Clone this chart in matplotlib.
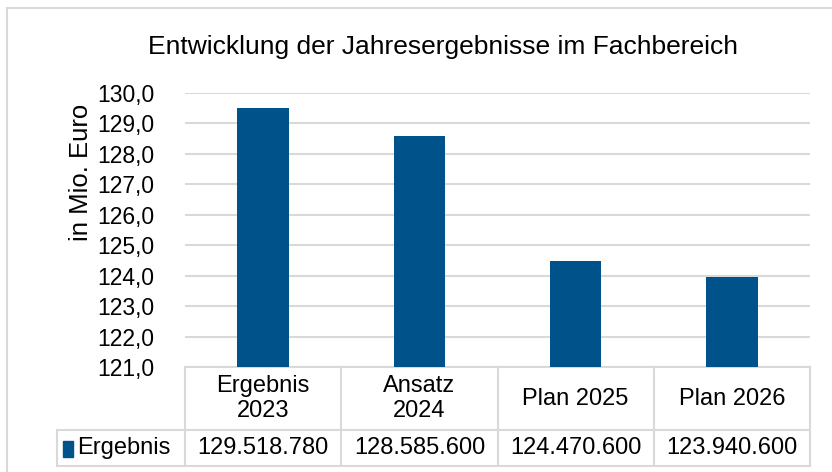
import matplotlib.pyplot as plt
import matplotlib.patches as patches
from matplotlib.lines import Line2D

# Data
categories = ['Ergebnis\n2023', 'Ansatz\n2024', 'Plan 2025', 'Plan 2026']
values_euro = [129518780, 128585600, 124470600, 123940600]
table_labels = ['129.518.780', '128.585.600', '124.470.600', '123.940.600']
series_name = 'Ergebnis'
y_ticks = [121, 122, 123, 124, 125, 126, 127, 128, 129, 130]

bar_color = '#00538a'
grid_color = '#d9d9d9'

plt.rcParams['font.family'] = ['Liberation Sans', 'DejaVu Sans']

fig = plt.figure(figsize=(8.32, 4.72), dpi=100)
ax = fig.add_axes([185 / 832, 1 - 367 / 472, 625 / 832, 274 / 472])

# outer chart border (goes past the right/bottom edge)
fig.patches.append(patches.Rectangle((7 / 832, -0.1), 1.0, 1 - 8 / 472 + 0.1,
                                     transform=fig.transFigure, fill=False,
                                     edgecolor=grid_color, linewidth=1.5))

values = [v / 1e6 for v in values_euro]
x = list(range(len(categories)))
ax.bar(x, values, width=0.33, color=bar_color, zorder=3)

ax.set_xlim(-0.5, len(categories) - 0.5)
ax.set_ylim(121, 130)
ax.set_yticks(y_ticks)
ax.set_yticklabels([f'{t:.1f}'.replace('.', ',') for t in y_ticks], fontsize=16.5)
ax.tick_params(axis='y', length=0, pad=22)
ax.set_xticks([])
ax.grid(axis='y', color=grid_color, linewidth=1.5, zorder=0)
for s in ['top', 'right', 'left']:
    ax.spines[s].set_visible(False)
ax.spines['bottom'].set_color(grid_color)
ax.spines['bottom'].set_linewidth(1.5)

ax.text(-0.166, 0.712, 'in Mio. Euro', transform=ax.transAxes, rotation=90,
        ha='center', va='center', fontsize=18.5)

fig.text(443 / 832, 1 - 47 / 472, 'Entwicklung der Jahresergebnisse im Fachbereich',
         ha='center', va='center', fontsize=19)

# data table below the axis
n = len(categories)
y_mid = -0.23
y_bot = -0.361
x_leg = -0.2048
kw = dict(transform=ax.transAxes, color=grid_color, linewidth=1.5, clip_on=False)
for i in range(n + 1):
    ax.add_line(Line2D([i / n, i / n], [0, y_bot], **kw))
ax.add_line(Line2D([x_leg, 1], [y_mid, y_mid], **kw))
ax.add_line(Line2D([x_leg, 1], [y_bot, y_bot], **kw))
ax.add_line(Line2D([x_leg, x_leg], [y_mid, y_bot], **kw))

for i, (cat, lab) in enumerate(zip(categories, table_labels)):
    xc = (i + 0.5) / n
    ax.text(xc, y_mid / 2, cat, transform=ax.transAxes, ha='center', va='center',
            fontsize=17, linespacing=1.2)
    ax.text(xc, (y_mid + y_bot) / 2, lab, transform=ax.transAxes, ha='center',
            va='center', fontsize=17)

ax.add_patch(patches.Rectangle((-0.195, -0.328), 0.016, 0.058, transform=ax.transAxes,
                               color=bar_color, clip_on=False))
ax.text(-0.172, (y_mid + y_bot) / 2, series_name, transform=ax.transAxes,
        ha='left', va='center', fontsize=17)

fig.savefig('out.png', dpi=100)
